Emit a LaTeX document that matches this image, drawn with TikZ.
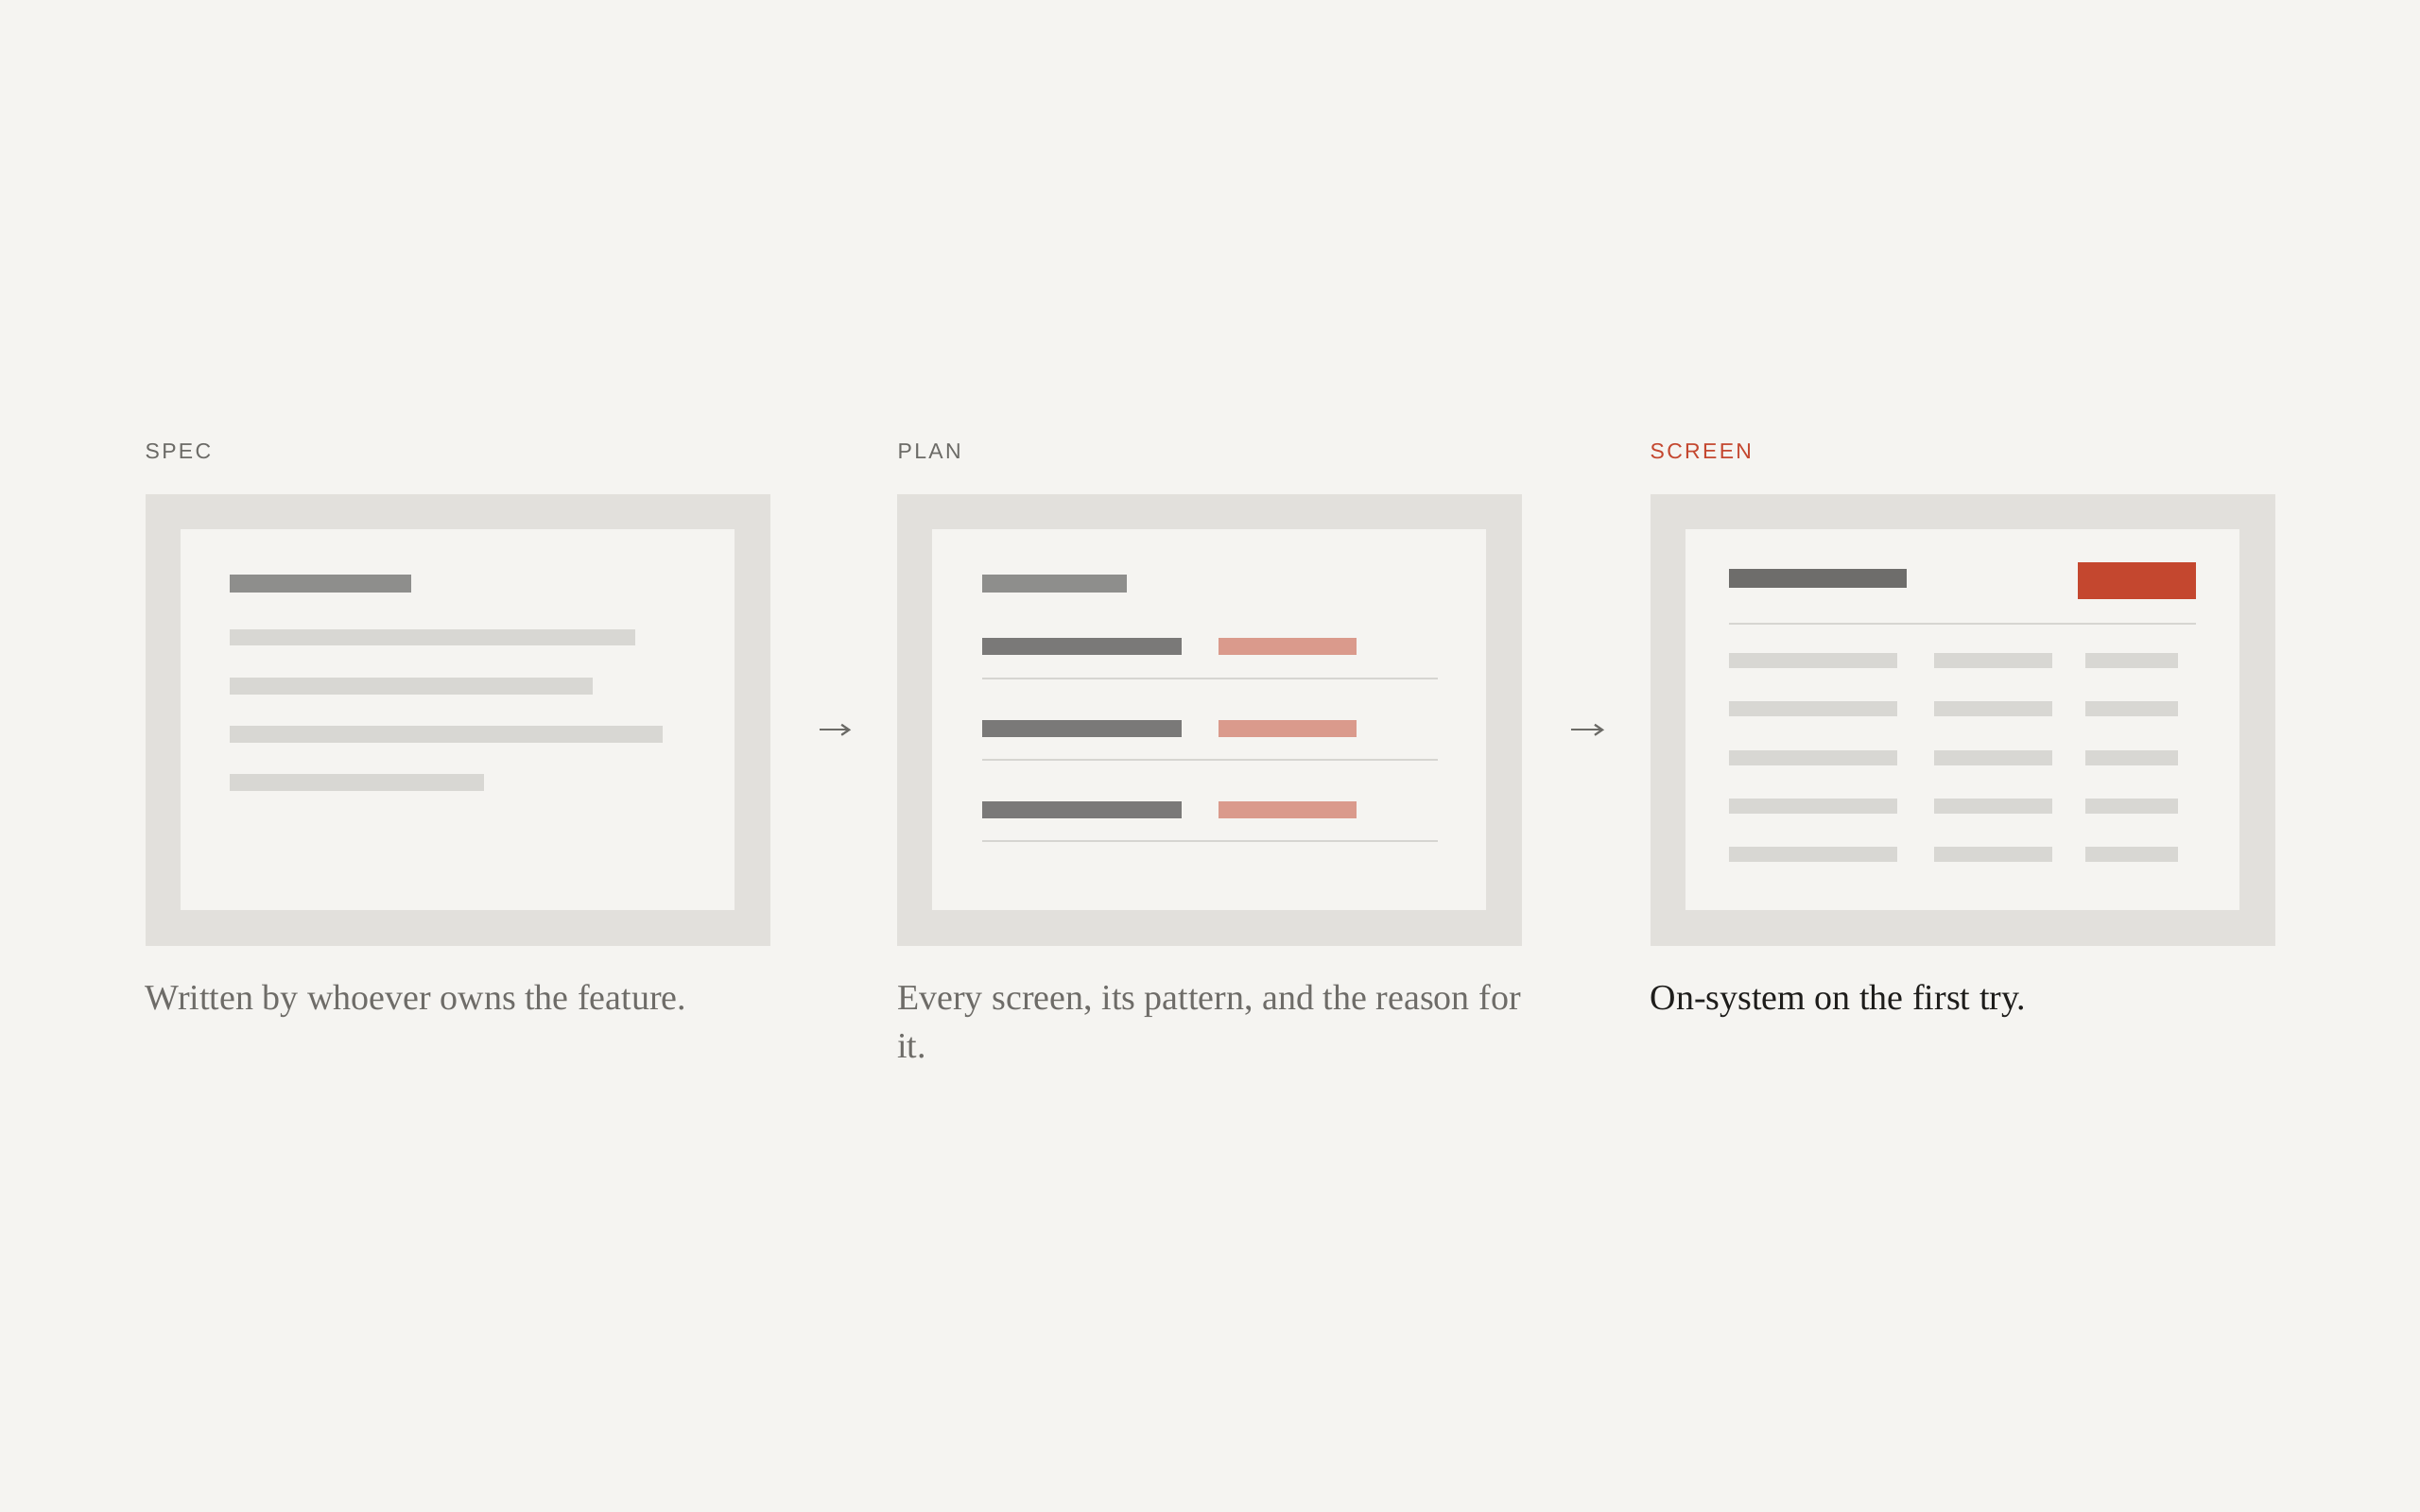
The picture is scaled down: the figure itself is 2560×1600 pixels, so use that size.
\documentclass[tikz,border=0pt]{standalone}
\usepackage{fontspec}
\setmainfont{Liberation Serif}
\newfontfamily\labelfont[LetterSpace=10]{Liberation Sans}
\usetikzlibrary{arrows.meta}
\definecolor{bg}{HTML}{F5F4F1}
\definecolor{frame}{HTML}{E2E0DC}
\definecolor{lightbar}{HTML}{D8D7D3}
\definecolor{midbar}{HTML}{8E8E8C}
\definecolor{darkbar}{HTML}{7A7978}
\definecolor{darkerbar}{HTML}{6E6D6B}
\definecolor{pinkbar}{HTML}{DA9A8C}
\definecolor{accent}{HTML}{C4472F}
\definecolor{rulecol}{HTML}{D6D5D1}
\definecolor{labelgray}{HTML}{6B6A66}
\definecolor{captiongray}{HTML}{6E6C68}
\definecolor{ink}{HTML}{1E1D1B}
\begin{document}
\begin{tikzpicture}[x=1pt,y=-1pt,
  panel/.style={draw=frame, line width=37.5pt, fill=bg, minimum width=623.5pt, minimum height=440.5pt, inner sep=0pt},
  steplabel/.style={font=\labelfont\fontsize{23}{28}\selectfont, text=labelgray, anchor=base west, inner sep=0pt},
  caption/.style={font=\fontsize{38}{51}\selectfont, text=captiongray, anchor=base west, inner sep=0pt, align=left},
  flow/.style={draw=labelgray, line width=2.2pt, -{Straight Barb[length=8pt,width=11pt]}, shorten <=52pt, shorten >=48.6pt},
  divider/.style={draw=rulecol, line width=2pt}
]
\fill[bg] (0,0) rectangle (2560,1600);
\useasboundingbox (0,0) rectangle (2560,1600);

% panels
\node[panel] (spec) at (484.1,761.6) {};
\node[panel] (plan) at (1279.2,761.6) {};
\node[panel] (screen) at (2076.0,761.6) {};

% labels
\node[steplabel] (lspec) at (153.5,485) {SPEC};
\node[steplabel] (lplan) at (949.5,485) {PLAN};
\node[steplabel, text=accent] (lscreen) at (1745.5,485) {SCREEN};

% spec content
\fill[midbar] (243,608) rectangle (435,627);
\fill[lightbar] (243,666) rectangle (672,683);
\fill[lightbar] (243,717) rectangle (627,735);
\fill[lightbar] (243,768) rectangle (701,786);
\fill[lightbar] (243,819) rectangle (512,837);

% plan content
\fill[midbar] (1039,608) rectangle (1192,627);
\foreach \t/\d in {675/717.5, 761.5/803.8, 848/890} {
  \fill[darkbar] (1039,\t) rectangle (1250,\t+18);
  \fill[pinkbar] (1289,\t) rectangle (1435,\t+18);
  \draw[divider] (1039,\d) -- (1521,\d);
}

% screen content
\fill[darkerbar] (1829,602) rectangle (2017,622);
\fill[accent] (2198,595) rectangle (2323,633.5);
\draw[divider] (1829,660) -- (2323,660);
\foreach \t in {691, 742.3, 793.6, 844.9, 896.2} {
  \fill[lightbar] (1829,\t) rectangle (2007,\t+16);
  \fill[lightbar] (2046,\t) rectangle (2170.5,\t+16);
  \fill[lightbar] (2206,\t) rectangle (2304,\t+16);
}

% connectors
\draw[flow] ([yshift=-10.7pt]spec.east) -- ([yshift=-10.7pt]plan.west);
\draw[flow] ([yshift=-10.7pt]plan.east) -- ([yshift=-10.7pt]screen.west);

% captions
\node[caption] (cspec) at (153.5,1068.5) {Written by whoever owns the feature.};
\node[caption] (cplan) at (949,1119.5) {Every screen, its pattern, and the reason for\\it.};
\node[caption, text=ink] (cscreen) at (1745.5,1068.5) {On-system on the first try.};
\end{tikzpicture}
\end{document}
